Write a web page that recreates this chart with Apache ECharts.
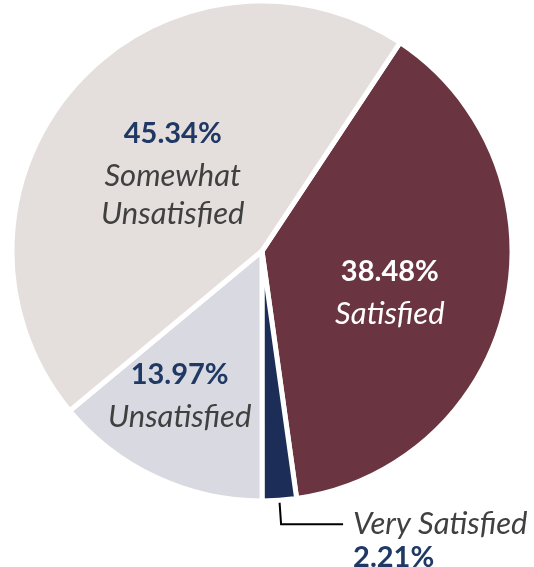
<!DOCTYPE html>
<html><head><meta charset="utf-8">
<script src="https://cdn.jsdelivr.net/npm/echarts@6/dist/echarts.min.js"></script>
<style>html,body{margin:0;padding:0;background:#fff}#c{width:534px;height:567px}</style>
</head><body><div id="c"></div>
<script>
const categories = ['Satisfied', 'Very Satisfied', 'Unsatisfied', 'Somewhat Unsatisfied'];
const labelNames = [['Satisfied'], ['Very Satisfied'], ['Unsatisfied'], ['Somewhat', 'Unsatisfied']];
const values = [38.48, 2.21, 13.97, 45.34];

const colors = ['#6A3540', '#1C2E58', '#D9D9E1', '#E4DEDC'];
const pctColors = ['#FFFFFF', '#1F3864', '#1F3864', '#1F3864'];
const nameColors = ['#FFFFFF', '#404040', '#404040', '#404040'];
const labelShift = [[3, 11], [0, 0], [-28, 27], [6, 6]];
const FONT = 'Lato, "Open Sans", sans-serif';

const data = categories.map((c, i) => {
  const outside = i === 1;
  const rich = {
    s: { fontSize: 28, lineHeight: 33 },
    p: { fontFamily: FONT, fontSize: 29, fontWeight: 'bold', color: pctColors[i], lineHeight: outside ? 33 : 47 },
    n: { fontFamily: FONT, fontSize: 31, fontStyle: 'italic', color: nameColors[i], lineHeight: outside ? 33 : 38 }
  };
  const pct = values[i].toFixed(2) + '%';
  const nameLines = labelNames[i].map(t => '{n|' + t + '}').join('\n');
  const formatter = outside
    ? '{s| }\n' + nameLines + '\n{p|' + pct + '}'
    : '{p|' + pct + '}\n' + nameLines;
  return {
    name: c,
    value: values[i],
    itemStyle: { color: colors[i] },
    label: outside ? {
      position: 'outside', align: 'left', formatter, rich, distanceToLabelLine: 10
    } : {
      position: 'inside', align: 'center', formatter, rich
    },
    labelLine: outside ? {
      show: true, length: 24, length2: 62, smooth: false,
      lineStyle: { color: '#000', width: 2 }
    } : { show: false }
  };
});

const chart = echarts.init(document.getElementById('c'), null, { renderer: 'canvas' });
chart.setOption({
  animation: false,
  backgroundColor: '#fff',
  series: [{
    type: 'pie',
    center: [262, 251],
    radius: 250,
    startAngle: 56.5,
    clockwise: true,
    avoidLabelOverlap: false,
    itemStyle: { borderColor: '#fff', borderWidth: 5 },
    emphasis: { disabled: true },
    label: { show: true, fontFamily: FONT },
    labelLayout: (p) => {
      const s = labelShift[p.dataIndex];
      return p.dataIndex === 1 ? {} : { dx: s[0], dy: s[1] };
    },
    data
  }]
});
</script>
</body></html>
